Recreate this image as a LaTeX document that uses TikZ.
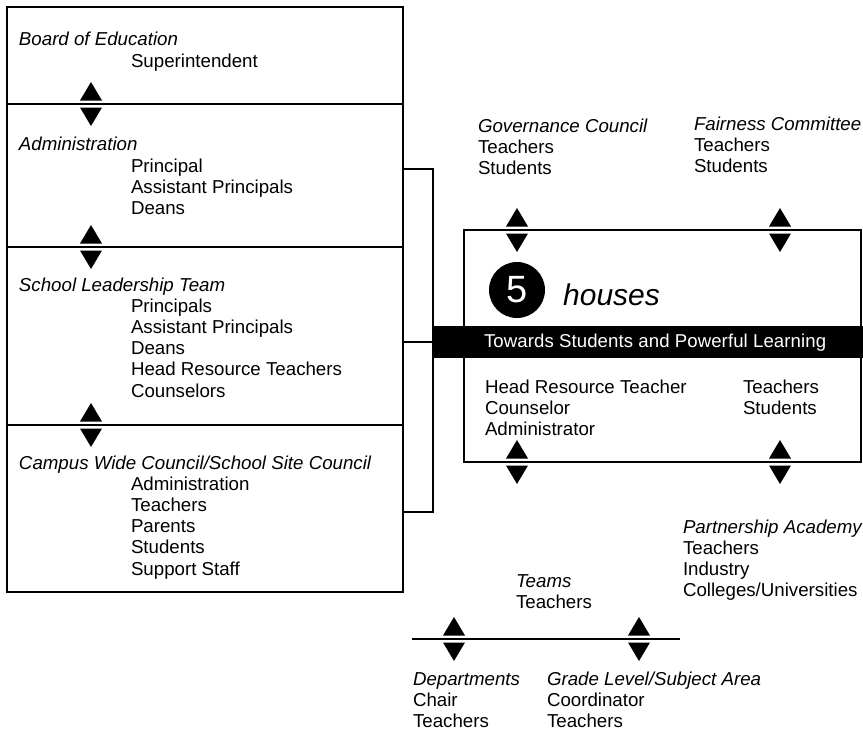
\documentclass[tikz,border=0pt]{standalone}
\usepackage{fontspec}
\setmainfont{Liberation Sans}
\begin{document}
\begin{tikzpicture}[x=1pt,y=-1pt,
  txt/.style={anchor=base west, inner sep=0, outer sep=0, font=\fontsize{18.7}{21.3}\selectfont},
  hd/.style={txt, font=\fontsize{18.7}{21.3}\selectfont\itshape},
  frame/.style={draw, line width=1.1pt, inner sep=0, outer sep=0},
  conn/.style={line width=1.1pt},
  updn/.pic={\fill (0,-22) -- (11,-3.5) -- (-11,-3.5) -- cycle;
             \fill (0,22) -- (11,3.5) -- (-11,3.5) -- cycle;}]
\useasboundingbox (0,0) rectangle (863,732);
\newcommand\blk[1]{\begin{tabular}[t]{@{}l@{}}#1\end{tabular}}
% left stack
\node[frame, minimum width=396, minimum height=585, anchor=north west] (stack) at (7,7) {};
\draw[conn] (stack.west |- 0,104) -- (stack.east |- 0,104);
\draw[conn] (stack.west |- 0,247) -- (stack.east |- 0,247);
\draw[conn] (stack.west |- 0,425) -- (stack.east |- 0,425);
\node[hd] (boe) at (19,45) {Board of Education};
\node[txt] (boei) at (131,67) {\blk{Superintendent}};
\node[hd] (adm) at (19,150) {Administration};
\node[txt] (admi) at (131,172) {\blk{Principal\\Assistant Principals\\Deans}};
\node[hd] (slt) at (19,291) {School Leadership Team};
\node[txt] (slti) at (131,312) {\blk{Principals\\Assistant Principals\\Deans\\Head Resource Teachers\\Counselors}};
\node[hd] (cwc) at (19,469) {Campus Wide Council/School Site Council};
\node[txt] (cwci) at (131,490) {\blk{Administration\\Teachers\\Parents\\Students\\Support Staff}};
\pic at (91,104) {updn};
\pic at (91,247) {updn};
\pic at (91,425) {updn};
% houses box
\node[frame, minimum width=397, minimum height=232, anchor=north west] (house) at (464,230) {};
\node[fill=black, minimum width=430, minimum height=32, anchor=north west, inner sep=0, outer sep=0] (bar) at (433,326) {};
\node[txt, text=white, font=\fontsize{18.6}{21.3}\selectfont\addfontfeature{LetterSpace=0.5}] (bartxt) at (484,347) {Towards Students and Powerful Learning};
\node[circle, fill=black, minimum size=56, inner sep=0, text=white, font=\fontsize{38}{38}\selectfont] (five) at (517,290) {5};
\node[anchor=base west, inner sep=0, font=\fontsize{30}{30}\selectfont\itshape] (houses) at (563,305) {houses};
\node[txt] (hrt) at (485,393) {\blk{Head Resource Teacher\\Counselor\\Administrator}};
\node[txt] (ts) at (743,393) {\blk{Teachers\\Students}};
% bracket
\draw[conn] (stack.east |- 0,169) -| (bar.west |- 0,512) -- (stack.east |- 0,512);
\draw[conn] (stack.east |- bar.west) -- (bar.west);
% outer groups
\node[txt] (gov) at (478,132) {\blk{\itshape Governance Council\\Teachers\\Students}};
\node[txt] (fair) at (694,130) {\blk{\itshape Fairness Committee\\Teachers\\Students}};
\node[txt] (pa) at (683,533) {\blk{\itshape Partnership Academy\\Teachers\\Industry\\Colleges/Universities}};
\node[txt] (teams) at (516,587) {\blk{\itshape Teams\\Teachers}};
\node[txt] (dept) at (413,685) {\blk{\itshape Departments\\Chair\\Teachers}};
\node[txt] (grade) at (547,685) {\blk{\itshape Grade Level/Subject Area\\Coordinator\\Teachers}};
\pic at (517,230) {updn};
\pic at (780,230) {updn};
\pic at (517,462) {updn};
\pic at (780,462) {updn};
% teams line
\coordinate (bl) at (412,639);
\coordinate (br) at (680,639);
\draw[conn] (bl) -- (br);
\pic at (454,639) {updn};
\pic at (639,639) {updn};
\end{tikzpicture}
\end{document}
